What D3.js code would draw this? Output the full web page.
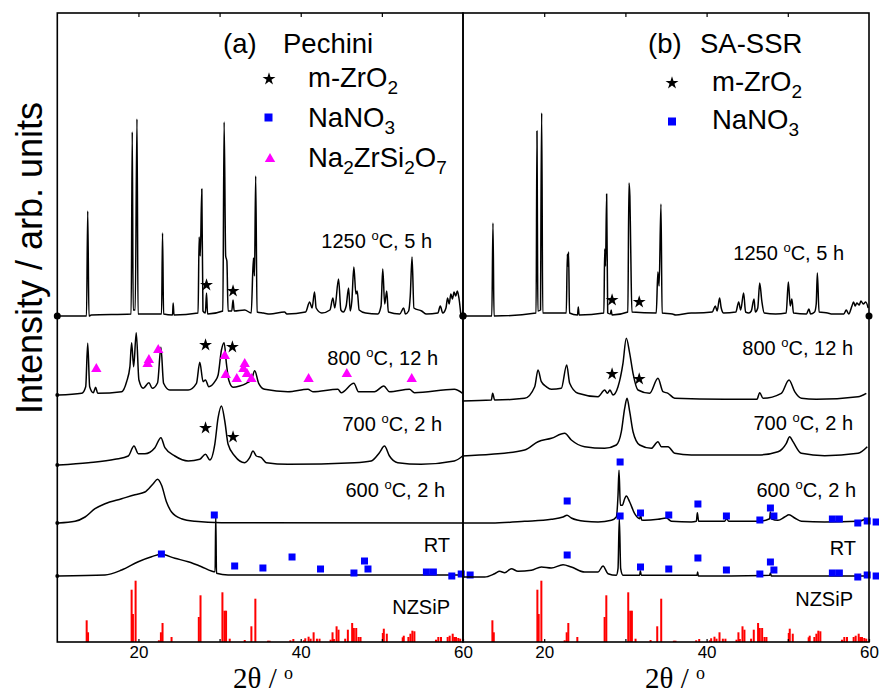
<!DOCTYPE html>
<html><head><meta charset="utf-8">
<script src="https://cdn.jsdelivr.net/npm/d3@7"></script>
<style>body{margin:0;background:#fff} svg{display:block}</style>
</head><body><svg id="chart" width="879" height="694"></svg>
<script>
// ---------------- DATA ----------------
const thetaDomain = [10, 60];
const xTickLabels = [20, 40, 60];
const xMinorTicks = [20, 30, 40, 50];

// pattern offsets (arb. units) of each stacked pattern
const offsetsA = {t1250: 326, t800: 247, t700: 177, t600: 119, tRT: 66};
const offsetsB = {t1250: 326, t800: 241, t700: 186, t600: 119, tRT: 65};

// panel (a) Pechini patterns [2theta, intensity]
const a1250 = [[10.1,0],[13.6,0],[13.75,105],[13.9,0],[14.2,1],[19.1,2],[19.24,184],[19.35,6],[19.6,6],[19.82,197],[19.95,2],[22.85,2],[22.97,83],[23.1,2],[24.2,1],[24.28,13],[24.38,1],[27.35,3],[27.48,79],[27.62,60],[27.81,127],[27.95,5],[28.25,3],[28.39,23],[28.52,2],[30.4,5],[30.56,194],[30.75,60],[30.9,55],[31.05,5],[31.5,5],[31.66,16],[31.8,5],[33.1,6],[33.9,3],[34.17,58],[34.3,40],[34.45,140],[34.62,4],[35.4,3],[36.2,2],[38.0,4],[38.3,2],[40.6,4],[41.1,14],[41.4,8],[41.7,24],[41.9,8],[42.6,3],[43.6,6],[43.96,18],[44.2,8],[44.66,37],[44.95,6],[45.24,4],[45.6,10],[45.9,28],[46.1,5],[46.3,15],[46.55,49],[46.8,22],[46.96,25],[47.2,6],[48,3],[49.5,2],[49.9,10],[50.11,47],[50.35,12],[50.6,25],[50.8,4],[52.2,2],[52.69,8],[52.9,2],[53.3,5],[53.5,20],[53.72,59],[53.95,8],[54.9,5],[55.5,2],[56.9,3],[57.2,10],[57.5,3],[57.9,8],[58.1,18],[58.3,12],[58.5,22],[58.7,17],[58.9,24],[59.1,20],[59.3,25],[59.5,18],[59.75,0]];
const a800 = [[10.14,0],[13.01,1.7],[13.5,8.3],[13.75,51.7],[13.99,8.3],[14.44,2.3],[14.73,7.7],[14.98,1.7],[17.93,3.3],[18.54,13.3],[18.95,28.3],[19.16,52.3],[19.41,28.3],[19.73,62.3],[20.06,15],[20.59,6.7],[21.29,12.3],[21.7,6.7],[22.36,12.3],[22.77,47.7],[23.1,11.7],[23.87,5],[26.13,5],[27.15,11.7],[27.56,32.7],[27.97,13.3],[28.26,15],[28.67,8.3],[29.41,13.3],[29.82,20],[30.23,45],[30.56,52.3],[30.84,31.7],[31.13,15],[31.66,7.7],[32.48,9],[33.3,11.7],[33.92,15],[34.33,24.3],[34.82,11.7],[35.56,5.7],[38.43,3.3],[40.89,5.7],[41.5,3.3],[44.58,5.7],[44.99,2.3],[46.55,11.7],[47.12,3.3],[49.09,3.3],[50.24,9],[50.94,3.3],[53.4,5.7],[54.02,2.3],[58.93,5.7],[59.95,1.7]];
const a700 = [[10.14,0],[13.83,2.3],[17.11,5.7],[18.75,9],[19.45,19],[19.98,11.3],[20.8,11.3],[22.03,17.3],[22.77,27.3],[23.26,17.3],[24.49,9],[26.13,4],[27.56,5.7],[28.26,10.7],[28.8,5],[29.41,20.7],[29.82,47.3],[30.23,59],[30.64,44],[31.05,20.7],[31.87,9],[33.1,2.3],[33.71,7.3],[34.12,14],[34.53,9],[35.15,7.3],[35.76,2.3],[38.43,0.7],[46.63,2.3],[48.68,4],[49.7,12.3],[50.32,19],[50.94,9],[51.96,2.3],[54.83,0.7],[58.93,4],[59.95,9]];
const a600 = [[10.14,0],[12.19,1.7],[13.42,6],[14.65,14.3],[15.88,19.3],[17.93,24.3],[19.57,28.3],[20.8,31],[21.82,39.3],[22.36,43.7],[22.85,37.7],[23.46,21],[24.08,11],[25.31,4.3],[26.95,1.7],[30.23,0.3],[59.95,0]];
const aRT = [[10.14,0],[15.88,1],[17.93,6],[19.98,14.3],[21.62,19.3],[22.77,21.7],[24.49,17.7],[26.13,14.3],[27.77,9.3],[29.0,5],[29.45,4.3],[29.53,61],[29.62,2.7],[31.05,1],[34.33,1],[59.95,1]];

// panel (b) SA-SSR patterns
const b1250 = [[9.9,0],[13.55,0],[13.69,93],[13.82,0],[19.0,3],[19.11,185],[19.16,100],[19.22,5],[19.55,6],[19.6,100],[19.69,203],[19.82,3],[22.72,3],[22.85,62],[22.92,50],[23.0,64],[23.12,3],[24.1,1],[24.2,9],[24.3,1],[27.35,3],[27.45,67],[27.55,50],[27.69,122],[27.82,3],[28.15,2],[28.25,6],[28.35,1],[30.3,4],[30.44,133],[30.55,120],[30.65,70],[30.8,4],[33.8,3],[34.0,44],[34.15,30],[34.38,112],[34.52,3],[35.8,2],[36.2,1],[38.1,3],[38.6,3],[40.7,4],[41.07,10],[41.3,5],[41.6,18],[41.8,8],[42.1,3],[43.6,4],[43.95,14],[44.2,6],[44.56,23],[44.8,4],[45.2,3],[45.5,5],[45.84,17],[46.0,4],[46.3,8],[46.54,33],[46.8,15],[47.1,3],[48.5,2],[49.8,3],[50.07,34],[50.3,10],[50.5,17],[50.7,3],[52.3,2],[52.6,7],[52.8,2],[53.3,4],[53.5,12],[53.64,43],[53.85,4],[54.9,3],[55.5,2],[56.9,2],[57.2,6],[57.5,2],[57.9,10],[58.1,14],[58.3,10],[58.5,13],[58.8,11],[59.0,15],[59.3,12],[59.6,14],[59.9,8]];
const b800 = [[9.9,0],[13.49,1],[13.65,7.7],[13.9,1],[17.59,2.7],[18.83,14.3],[19.24,31],[19.65,19.3],[20.26,14.3],[20.88,11.7],[22.11,12.7],[22.77,36],[23.14,17.7],[24.16,7.7],[26.63,4.3],[27.45,11],[27.78,7.7],[28.1,11],[28.47,6],[29.09,14.3],[29.7,37.7],[30.11,62.7],[30.53,47.7],[30.94,27.7],[31.55,11],[32.99,7.7],[34.01,22.7],[34.63,9.3],[35.25,7.7],[36.07,2.7],[42.22,1.7],[46.2,1.7],[46.54,8.3],[46.95,2.7],[49.2,7.7],[50.15,21],[50.85,9.3],[51.67,2.7],[53.51,1.7],[58.65,4.3],[59.67,7.7]];
const b700 = [[9.9,0],[13.49,1.7],[17.59,6],[19.24,14.3],[20.88,17.7],[22.52,22.7],[23.34,16],[24.98,9.3],[27.45,7.7],[28.88,11],[29.5,24.3],[29.91,47.7],[30.2,57.7],[30.53,44.3],[30.94,24.3],[31.76,11],[33.19,7.7],[34.01,14.3],[34.43,9.3],[35.25,9.3],[36.07,2.7],[38.12,1],[46.33,1],[48.79,4.3],[49.82,12.7],[50.23,19.3],[50.64,14.3],[51.67,2.7],[54.54,0.3],[58.65,2.7],[59.79,9.3]];
const b600 = [[9.9,0],[13.49,0],[17.59,1.7],[20.88,3.7],[22.32,6],[22.81,7.7],[23.34,5],[24.98,1.7],[26.63,1],[28.27,2.7],[28.88,6],[29.09,27.7],[29.21,52.7],[29.38,17.7],[29.62,17.7],[29.91,24.3],[30.11,27],[30.53,21],[31.14,9.3],[31.76,4.3],[31.88,7.7],[32.0,3],[32.37,2.7],[34.01,3.7],[35.04,5],[35.66,1.7],[38.12,1],[38.74,1.7],[38.86,10.3],[39.02,1.7],[42.22,1.7],[42.47,4.3],[42.72,1.7],[46.33,1.7],[47.77,4.3],[47.85,11],[47.97,4.3],[48.79,2.7],[49.61,6],[50.15,8.3],[50.85,5],[51.67,1.7],[54.54,1],[58.65,1.7],[59.67,4.3]];
const bRT = [[9.9,0],[12.67,0],[13.9,3.3],[14.52,5.7],[15.13,4.3],[15.95,8.3],[16.77,5.7],[18.42,6.7],[19.65,10],[20.88,9],[22.32,12.3],[23.34,10],[24.98,5],[26.63,5],[27.24,11],[27.86,3.3],[28.88,1.7],[29.09,8.3],[29.25,59],[29.42,8.3],[29.7,1.7],[31.76,1.7],[31.84,6.3],[31.96,1.7],[38.82,1.7],[38.9,5],[38.98,1],[47.77,1.7],[47.85,4],[47.97,1],[59.9,1]];

// NZSiP reference pattern (bars)
const nzsipTheta = [13.62,13.79,19.16,19.32,19.65,22.52,22.77,22.97,24.08,27.44,27.65,30.35,30.6,30.8,31.25,33.1,33.92,34.41,35.97,36.17,38.72,39.09,40.4,40.56,40.97,41.22,41.59,42.0,42.32,43.68,43.92,44.09,44.42,44.66,45.48,45.81,46.34,46.55,46.84,47.13,47.37,50.12,50.24,50.61,52.57,52.7,53.27,53.52,53.76,54.01,56.67,56.96,57.29,58.11,58.36,58.73,58.93,59.14,59.42,59.66];
const nzsipInt   = [21.7,9.7,52.3,28,61.3,1.7,9.7,19,5,25,46.7,49.7,31.3,31.3,3.3,2,15.7,43.3,1.3,1.3,1.7,3,1.7,3.7,5.3,3.3,9.7,3.3,3.3,2.3,9.7,3,15.7,12.3,3.3,12.3,19,14,14,5,5,9,13.3,8.3,4.7,6.3,5,8.3,11.3,10.7,2.3,5,5,5,6.3,8.3,5,5,4,3.3];

// NaNO3 reference marks (relative height above pattern baseline)
const nitrateTheta = [22.83,29.35,31.86,35.34,38.93,42.44,46.56,47.86,48.29,55.49,56.35,58.62,59.78,60.88];
const nitrateRel   = [22,61,10,8,19,7,3,15,7,4,4,0,2,1];

// m-ZrO2 star marks [2theta, relative height]
const starsA1250 = [[28.39,31],[31.66,25]];
const starsA800  = [[28.27,50],[31.58,48]];
const starsA700  = [[28.27,37],[31.66,28]];
const starsB1250 = [[28.36,16],[31.7,14]];
const starsB800  = [[28.36,27],[31.7,22]];

// Na2ZrSi2O7 triangle marks (panel a, 800 C)
const triA800 = [[14.81,27],[21.13,32],[21.29,36],[22.44,46],[30.64,40],[30.76,21],[32.12,17],[33.1,32],[32.94,27],[33.38,22],[33.92,17],[40.97,17],[45.68,22],[53.68,17]];

const labelsTemp = [["1250 ","C, 5 h"],["800 ","C, 12 h"],["700 ","C, 2 h"],["600 ","C, 2 h"]];

// ---------------- DRAW ----------------
const svg = d3.select('#chart');
const FONT = "'Liberation Sans', Arial, Helvetica, sans-serif";
const plotTop = 13, plotBottom = 642;
const y = d3.scaleLinear().domain([0, 629]).range([plotBottom, plotTop]);

const panels = [
  {x: d3.scaleLinear().domain(thetaDomain).range([57.3, 463]),
   curves: [[a1250,offsetsA.t1250],[a800,offsetsA.t800],[a700,offsetsA.t700],[a600,offsetsA.t600],[aRT,offsetsA.tRT]],
   stars: [[starsA1250,offsetsA.t1250],[starsA800,offsetsA.t800],[starsA700,offsetsA.t700]],
   squares: [offsetsA.tRT],
   tris: [[triA800, offsetsA.t800]],
   tempLabels: [[432,248],[438,365],[442,431],[445,497]],
   rt: [450,552], nz: [450,614],
   xlab: 233},
  {x: d3.scaleLinear().domain(thetaDomain).range([463, 869]),
   curves: [[b1250,offsetsB.t1250],[b800,offsetsB.t800],[b700,offsetsB.t700],[b600,offsetsB.t600],[bRT,offsetsB.tRT]],
   stars: [[starsB1250,offsetsB.t1250],[starsB800,offsetsB.t800]],
   squares: [offsetsB.t600, offsetsB.tRT],
   tris: [],
   tempLabels: [[844,260],[853,355],[853,430],[856,497]],
   rt: [856,555], nz: [853,606],
   xlab: 645}
];

const star = d3.symbol().type(d3.symbolStar).size(52);
const triPath = "M0,-5L5.2,4L-5.2,4Z";

panels.forEach((p, pi) => {
  const x = p.x;
  const g = svg.append('g');
  // NZSiP bars
  g.selectAll('rect.bar').data(nzsipTheta.map((t,i)=>[t,nzsipInt[i]])).join('rect')
    .attr('x', d => x(d[0]) - 1).attr('width', 2)
    .attr('y', d => y(d[1])).attr('height', d => y(0) - y(d[1]))
    .attr('fill', '#ff0000');
  // patterns
  p.curves.forEach(([data, off]) => {
    const line = d3.line().x(d => x(d[0])).y(d => y(off + d[1])).curve(d3.curveMonotoneX);
    g.append('path').attr('d', line(data)).attr('fill','none')
      .attr('stroke','#000').attr('stroke-width',1.5).attr('stroke-linejoin','round');
  });
  // end dots
  const c0 = p.curves[0];
  g.append('circle').attr('cx', x(thetaDomain[0])).attr('cy', y(c0[1])).attr('r', 3.5).attr('fill','#000');
  g.append('circle').attr('cx', x(thetaDomain[1])).attr('cy', y(c0[1])).attr('r', 3.5).attr('fill','#000');
  if (pi === 0) p.curves.slice(1).forEach(([data, off]) => {
    g.append('circle').attr('cx', x(thetaDomain[0])).attr('cy', y(off + data[0][1])).attr('r', 2).attr('fill','#000');
  });
  // stars
  p.stars.forEach(([pts, off]) => {
    g.selectAll(null).data(pts).join('path').attr('d', star)
      .attr('transform', d => `translate(${x(d[0])},${y(off + d[1])})`).attr('fill','#000');
  });
  // squares
  p.squares.forEach(off => {
    g.selectAll(null).data(nitrateTheta.map((t,i)=>[t,nitrateRel[i]])).join('rect')
      .attr('x', d => x(d[0]) - 3.5).attr('y', d => y(off + d[1]) - 3.5)
      .attr('width', 7).attr('height', 7).attr('fill', '#0000ff');
  });
  // triangles
  p.tris.forEach(([pts, off]) => {
    g.selectAll(null).data(pts).join('path').attr('d', triPath)
      .attr('transform', d => `translate(${x(d[0])},${y(off + d[1])})`).attr('fill','#ff00ff');
  });
  // frame
  svg.append('rect').attr('x', x.range()[0]).attr('y', plotTop)
    .attr('width', x.range()[1]-x.range()[0]).attr('height', plotBottom-plotTop)
    .attr('fill','none').attr('stroke','#000').attr('stroke-width',1.6);
  // axes
  const bottom = svg.append('g').attr('transform', `translate(0,${plotBottom})`)
    .call(d3.axisBottom(x).tickValues(xMinorTicks.concat([60])).tickSize(-3).tickPadding(4)
      .tickFormat(d => xTickLabels.includes(d) ? d : ''));
  bottom.select('.domain').remove();
  bottom.selectAll('line').attr('stroke','#000').attr('stroke-width',1.2);
  bottom.selectAll('text').attr('font-family', FONT).attr('font-size', 17).attr('fill','#000');
  const top = svg.append('g').attr('transform', `translate(0,${plotTop})`)
    .call(d3.axisTop(x).tickValues(xMinorTicks).tickSize(-4).tickFormat(''));
  top.select('.domain').remove();
  top.selectAll('line').attr('stroke','#000').attr('stroke-width',1.2);

  // temperature labels
  p.tempLabels.forEach(([lx, ly], i) => {
    const t = svg.append('text').attr('x', lx).attr('y', ly).attr('text-anchor','end')
      .attr('font-family', FONT).attr('font-size', 20).attr('fill','#000');
    t.append('tspan').text(labelsTemp[i][0]);
    t.append('tspan').text('o').attr('font-size', 13).attr('dy', -8);
    t.append('tspan').text(labelsTemp[i][1]).attr('dy', 8);
  });
  svg.append('text').attr('x', p.rt[0]).attr('y', p.rt[1]).attr('text-anchor','end')
    .attr('font-family', FONT).attr('font-size', 20).text('RT');
  svg.append('text').attr('x', p.nz[0]).attr('y', p.nz[1]).attr('text-anchor','end')
    .attr('font-family', FONT).attr('font-size', 20).text('NZSiP');
  // x label
  const xl = svg.append('text').attr('x', p.xlab).attr('y', 688)
    .attr('font-family', "'Liberation Serif', 'Times New Roman', serif").attr('font-size', 29);
  xl.append('tspan').text('2θ / ');
  xl.append('tspan').text('o').attr('font-size', 18).attr('dy', -9);
});

// legends
function legendText(x0, y0, parts, size) {
  const t = svg.append('text').attr('x', x0).attr('y', y0)
    .attr('font-family', FONT).attr('font-size', size).attr('fill','#000');
  let shift = 0;
  parts.forEach(([s, sub]) => {
    const dy = sub ? 7 - shift : -shift;
    shift = sub ? 7 : 0;
    t.append('tspan').text(s).attr('font-size', sub ? 19 : size).attr('dy', dy);
  });
  return t;
}
const LS = 27.5;
// panel a
legendText(223, 53, [['(a)']], LS);
legendText(283, 53, [['Pechini']], LS);
svg.append('path').attr('d', star).attr('transform','translate(269,79)');
legendText(308, 87, [['m-ZrO'],['2',1]], LS);
svg.append('rect').attr('x',264.5).attr('y',113.5).attr('width',8).attr('height',8).attr('fill','#0000ff');
legendText(308, 127, [['NaNO'],['3',1]], LS);
svg.append('path').attr('d', triPath).attr('transform','translate(270,158)').attr('fill','#ff00ff');
legendText(308, 167, [['Na'],['2',1],['ZrSi'],['2',1],['O'],['7',1]], LS);
// panel b
legendText(648, 53, [['(b)']], LS);
legendText(700, 53, [['SA-SSR']], LS);
svg.append('path').attr('d', star).attr('transform','translate(672,83)');
legendText(712, 91, [['m-ZrO'],['2',1]], LS);
svg.append('rect').attr('x',668).attr('y',117.5).attr('width',8).attr('height',8).attr('fill','#0000ff');
legendText(712, 129, [['NaNO'],['3',1]], LS);

// y label
svg.append('text').attr('transform','translate(42,258) rotate(-90)').attr('text-anchor','middle')
  .attr('font-family', FONT).attr('font-size', 36).text('Intensity / arb. units');
</script></body></html>
